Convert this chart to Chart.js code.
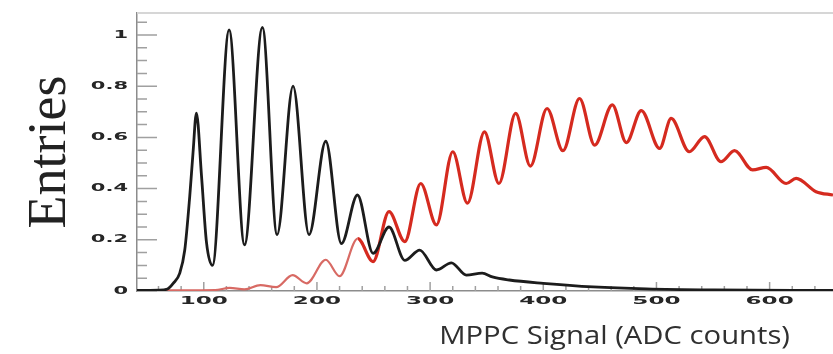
<!DOCTYPE html>
<html>
<head>
<meta charset="utf-8">
<script src="https://cdn.jsdelivr.net/npm/chart.js@4.4.1/dist/chart.umd.min.js"></script>
<style>
  html, body { margin: 0; padding: 0; background: #fff; }
</style>
</head>
<body>
<canvas id="mppcSignal" width="833" height="354"></canvas>
<script>
// black: pedestal + resolved photo-electron peaks
let blackX = [41, 60, 68, 73, 78.8, 83.2, 87.6, 90.5, 93.5, 98, 102.4, 107.7, 122.4, 136, 151.8, 164.8,
    178.9, 193, 207.8, 221.6, 235.8, 249.6, 263.7, 277.6, 290.8, 305.6, 318.8, 332, 346, 355, 370,
    400, 444, 491, 550, 656];
let blackY = [0.002, 0.003, 0.008, 0.03, 0.07, 0.16, 0.37, 0.54, 0.695, 0.45, 0.19, 0.10, 1.02, 0.18, 1.03, 0.22,
    0.80, 0.22, 0.585, 0.185, 0.375, 0.147, 0.25, 0.12, 0.16, 0.082, 0.11, 0.062, 0.07, 0.055, 0.043,
    0.03, 0.016, 0.008, 0.004, 0.002];

// red: higher light yield spectrum
let redX = [41, 80, 110, 123, 136, 150, 164, 178.5, 191, 207.8, 220, 236, 249.6, 263.7, 277.6, 291.7,
    305.6, 320, 333, 348, 360.8, 375.6, 388.6, 403.3, 417.4, 432, 445.4, 461, 473.4, 486.6, 502.8,
    513, 529, 542.5, 557, 569, 585, 597, 614.6, 623.4, 641, 656];
let redY = [0.003, 0.003, 0.004, 0.012, 0.006, 0.023, 0.015, 0.062, 0.03, 0.122, 0.058, 0.205, 0.115, 0.31, 0.193, 0.42,
    0.258, 0.544, 0.343, 0.622, 0.42, 0.694, 0.488, 0.713, 0.548, 0.752, 0.57, 0.727, 0.58, 0.705, 0.557,
    0.674, 0.544, 0.603, 0.505, 0.548, 0.473, 0.483, 0.42, 0.44, 0.388, 0.375];

let xTickValues = [100, 200, 300, 400, 500, 600];
let xTickLabels = ['100', '200', '300', '400', '500', '600'];
let yTickValues = [0, 0.2, 0.4, 0.6, 0.8, 1];
let yTickLabels = ['0', '0.2', '0.4', '0.6', '0.8', '1'];

function toPoints(xs, ys) {
    return xs.map(function(v, i) { return {x: v, y: ys[i]}; });
}

// ROOT style: ticks inside the frame, wide bold labels, title at the right
const rootFrame = {
    id: 'rootFrame',
    beforeDatasetsDraw(chart) {
        const {ctx, chartArea: area, scales: {x, y}} = chart;
        ctx.save();
        ctx.strokeStyle = '#d6d6d6';
        ctx.lineWidth = 2;
        ctx.beginPath();
        ctx.moveTo(area.left, area.top);
        ctx.lineTo(area.right, area.top);
        ctx.stroke();

        ctx.strokeStyle = '#a0a0a0';
        ctx.lineWidth = 1.5;
        ctx.beginPath();
        for (let k = 0; k <= 21; k++) {
            const py = y.getPixelForValue(k * 0.05);
            const len = k % 4 === 0 ? 20 : 10;
            ctx.moveTo(area.left, py);
            ctx.lineTo(area.left + len, py);
        }
        for (let v = 60; v <= 650; v += 20) {
            const px = x.getPixelForValue(v);
            const len = v % 100 === 0 ? 9 : 5;
            ctx.moveTo(px, area.bottom);
            ctx.lineTo(px, area.bottom - len);
        }
        ctx.stroke();
        ctx.restore();
    },
    afterDraw(chart) {
        const {ctx, scales: {x, y}} = chart;
        ctx.save();
        ctx.fillStyle = '#262626';
        ctx.textBaseline = 'middle';

        ctx.font = 'bold 11px "DejaVu Sans"';
        ctx.textAlign = 'center';
        xTickValues.forEach(function(v, i) {
            ctx.save();
            ctx.translate(x.getPixelForValue(v), 301);
            ctx.scale(2.1, 1);
            ctx.fillText(xTickLabels[i], 0, 0);
            ctx.restore();
        });

        ctx.font = 'bold 10px "DejaVu Sans"';
        ctx.textAlign = 'right';
        yTickValues.forEach(function(v, i) {
            ctx.save();
            ctx.translate(128, y.getPixelForValue(v));
            ctx.scale(2.1, 1);
            ctx.fillText(yTickLabels[i], 0, 0);
            ctx.restore();
        });

        ctx.fillStyle = '#303030';
        ctx.font = '25px "Open Sans"';
        ctx.textAlign = 'right';
        ctx.translate(790, 337);
        ctx.scale(1.17, 1);
        ctx.fillText('MPPC Signal (ADC counts)', 0, 0);
        ctx.restore();
    }
};

var ctx = document.getElementById('mppcSignal');
var mppcChart = new Chart(ctx, {
    type: 'line',
    data: {
        datasets: [{
            data: toPoints(blackX, blackY),
            borderColor: '#1c1c1c',
            borderWidth: 2.8,
            pointRadius: 0,
            cubicInterpolationMode: 'monotone',
            fill: false
        }, {
            data: toPoints(redX, redY),
            borderColor: '#d52a1f',
            borderWidth: 3.2,
            pointRadius: 0,
            cubicInterpolationMode: 'monotone',
            fill: false,
            segment: {
                borderColor: function(c) { return c.p0.parsed.x < 236 ? '#d86a64' : undefined; },
                borderWidth: function(c) { return c.p0.parsed.x < 236 ? 2.2 : undefined; }
            }
        }]
    },
    options: {
        responsive: false,
        animation: false,
        events: [],
        layout: { padding: { top: 13, right: 0, bottom: 0, left: 0 } },
        plugins: {
            legend: { display: false },
            tooltip: { enabled: false }
        },
        scales: {
            x: {
                type: 'linear',
                min: 41,
                max: 656,
                ticks: { display: false },
                grid: { display: false },
                border: { display: true, color: '#8c8c8c', width: 1.5 },
                afterFit: function(scale) { scale.height = 63; }
            },
            y: {
                min: 0,
                max: 1.086,
                ticks: { display: false },
                grid: { display: false },
                border: { display: true, color: '#8c8c8c', width: 1.5 },
                title: {
                    display: true,
                    text: 'Entries',
                    color: '#222',
                    font: { family: '"Liberation Serif"', size: 54, weight: 'normal' },
                    padding: { top: 18, bottom: 0 }
                },
                afterFit: function(scale) { scale.width = 137; }
            }
        }
    },
    plugins: [rootFrame]
});
</script>
</body>
</html>
